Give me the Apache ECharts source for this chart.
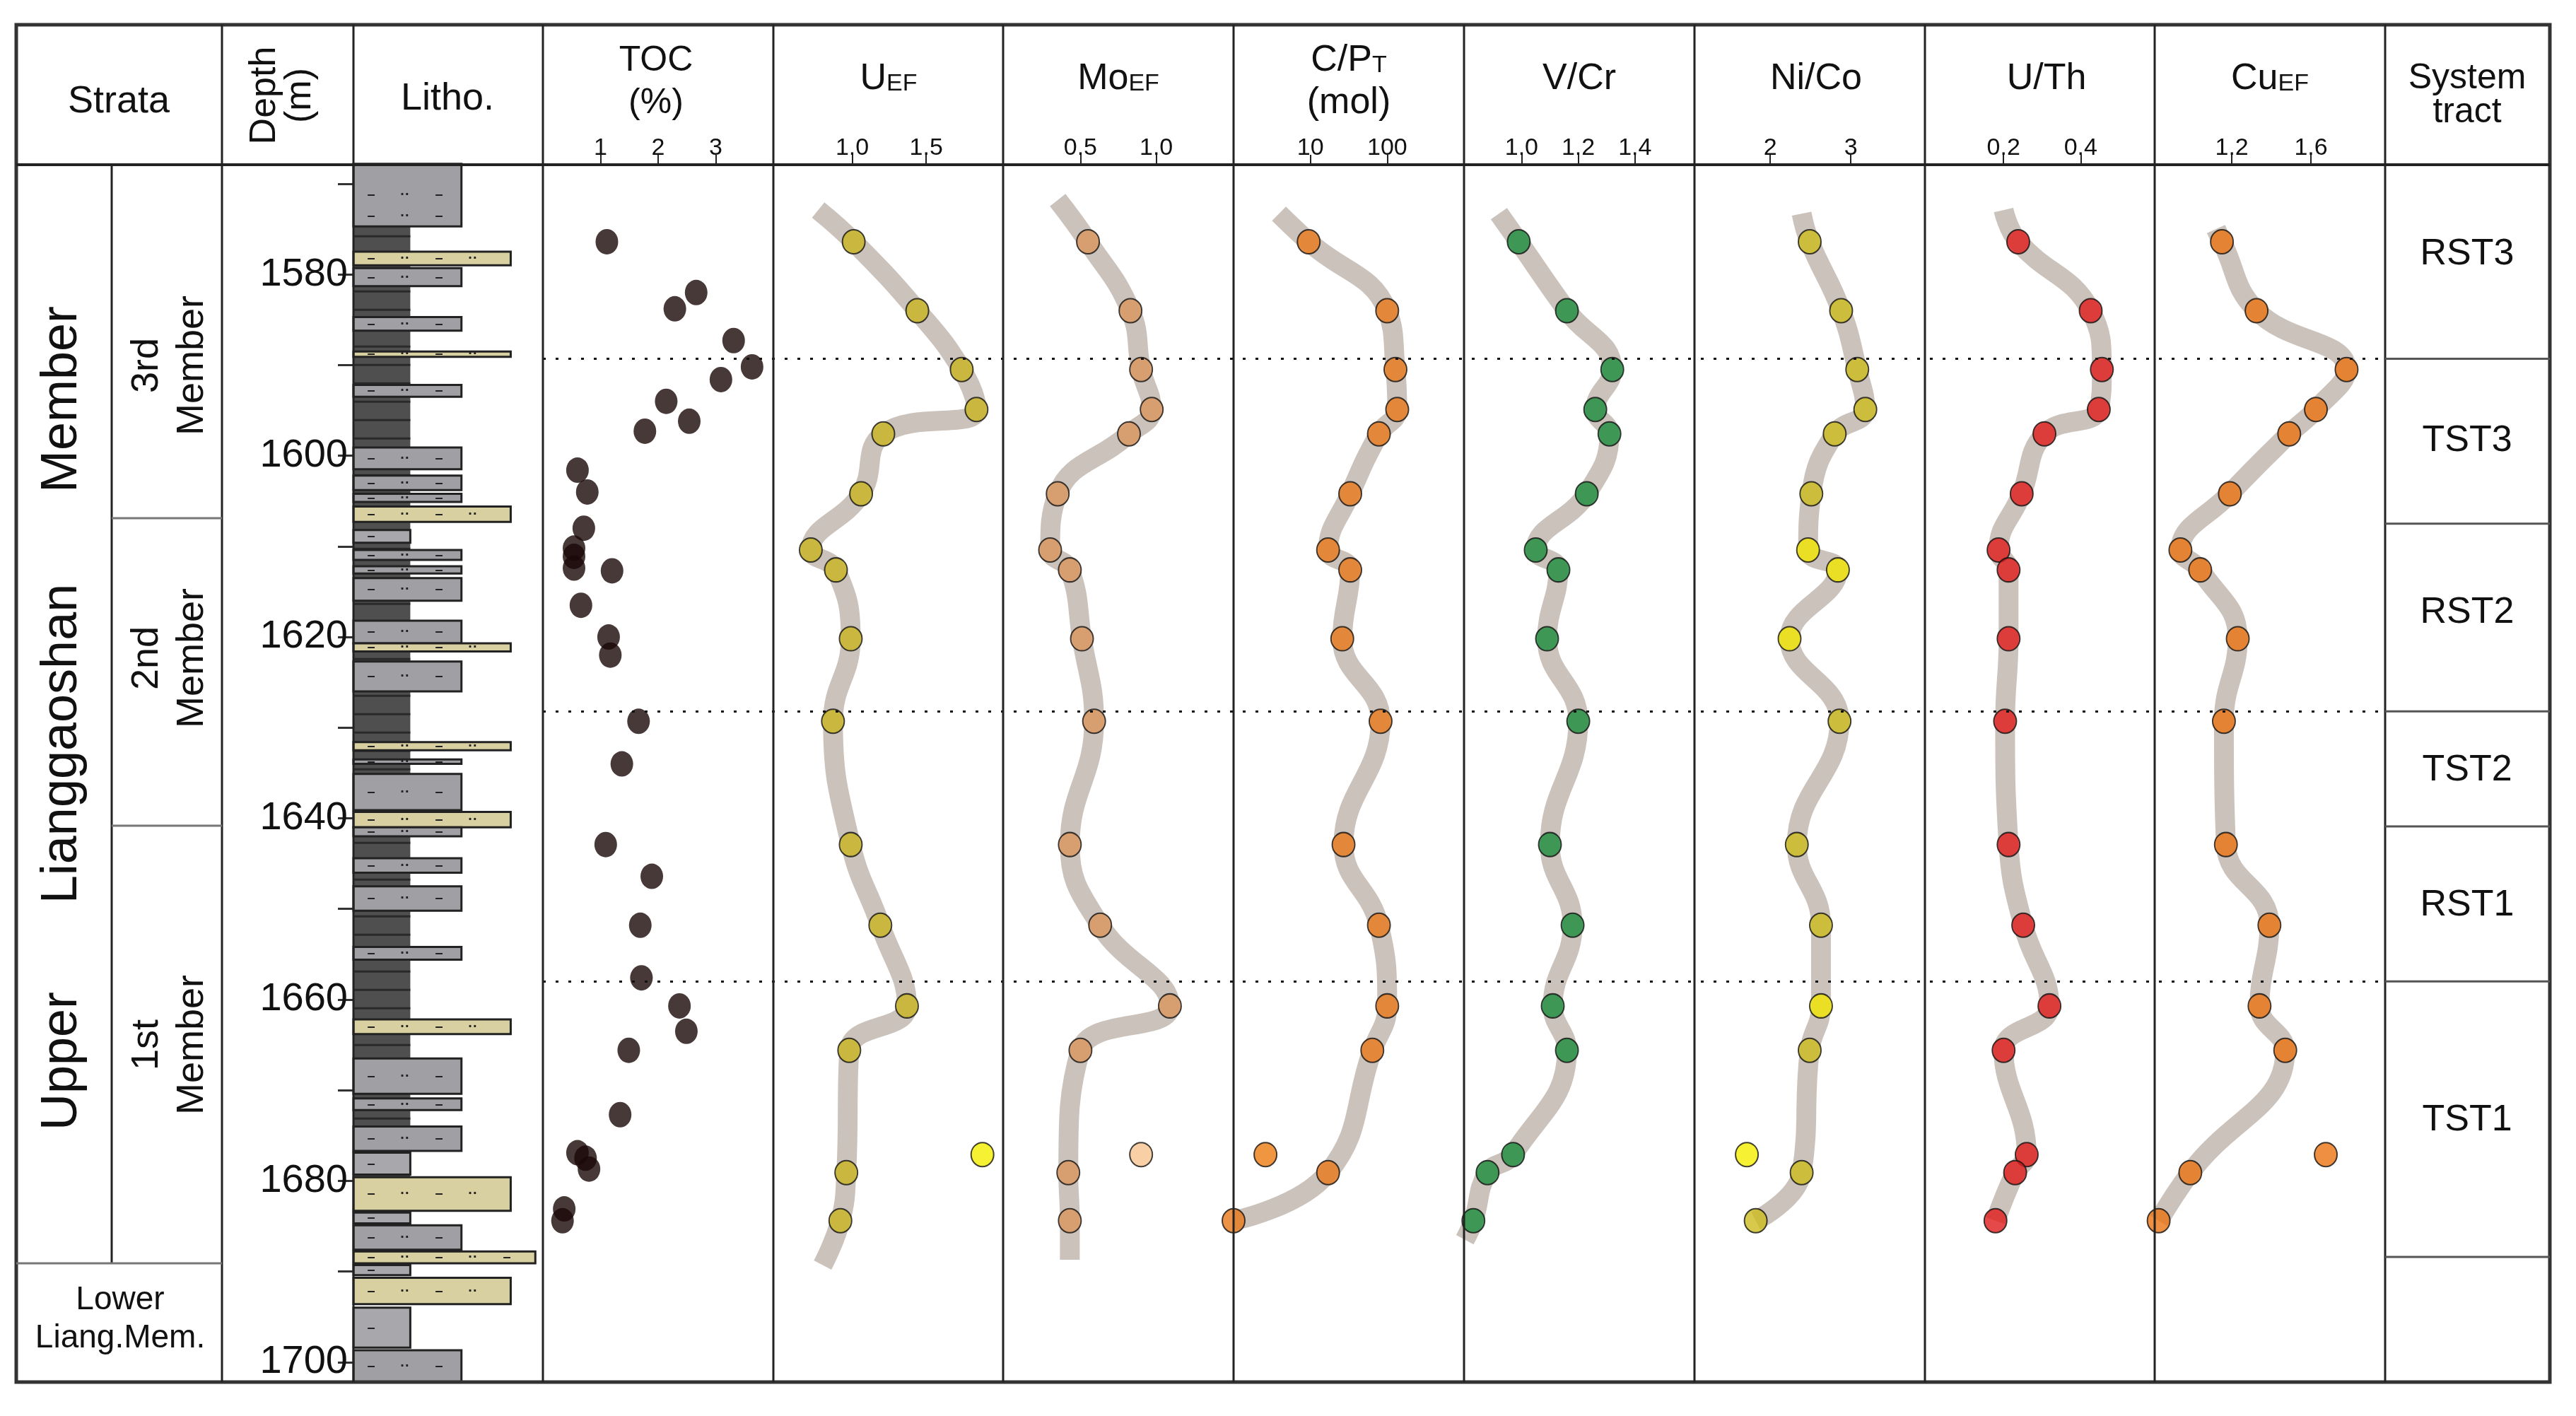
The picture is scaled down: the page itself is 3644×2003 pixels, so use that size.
<!DOCTYPE html>
<html><head><meta charset="utf-8">
<script src="https://cdn.jsdelivr.net/npm/echarts@6/dist/echarts.min.js"></script>
<style>html,body{margin:0;padding:0;background:#fff}#c{width:3644px;height:2003px}</style>
</head><body><div id="c"></div>
<script>
// ---------- DATA ----------
const depthTicks = [1570,1580,1590,1600,1610,1620,1630,1640,1650,1660,1670,1680,1690,1700];
const depthLabels = [1580,1600,1620,1640,1660,1680,1700];
const tocDepth = [1576.4,1582.0,1583.8,1587.3,1590.2,1591.6,1594.0,1596.2,1597.3,1601.6,1604.0,1608.0,1610.2,1611.1,1612.4,1612.7,1616.5,1620.0,1622.0,1629.3,1634.0,1642.9,1646.4,1651.8,1657.6,1660.7,1663.5,1665.6,1672.7,1676.9,1677.5,1678.7,1683.1,1684.4];
const tocValue = [1.11,2.66,2.29,3.31,3.63,3.09,2.14,2.54,1.77,0.60,0.77,0.71,0.54,0.54,0.54,1.20,0.66,1.14,1.17,1.66,1.37,1.09,1.89,1.69,1.71,2.37,2.49,1.49,1.34,0.60,0.74,0.80,0.37,0.34];
const sampleDepth = [1576.4,1584.0,1590.5,1594.9,1597.6,1604.2,1610.4,1612.6,1620.2,1629.3,1642.9,1651.8,1660.7,1665.6,1677.1,1679.1,1684.4];
const uEF  = [1.01,1.44,1.74,1.84,1.21,1.06,0.72,0.89,0.99,0.87,0.99,1.19,1.37,0.98,1.88,0.96,0.92];
const moEF = [0.55,0.83,0.90,0.97,0.82,0.35,0.30,0.43,0.51,0.59,0.43,0.63,1.09,0.50,0.90,0.42,0.43];
const cpT  = [9.5,100,128,135,78,33,17,33,26,82,27,78,100,64,2.6,17,1.0];
const vCr  = [0.99,1.16,1.32,1.26,1.31,1.23,1.05,1.13,1.09,1.20,1.10,1.18,1.11,1.16,0.97,0.88,0.83];
const niCo = [2.49,2.88,3.08,3.18,2.80,2.51,2.47,2.84,2.24,2.86,2.33,2.63,2.63,2.49,1.71,2.39,1.82];
const uTh  = [0.238,0.426,0.455,0.447,0.306,0.247,0.187,0.213,0.213,0.204,0.213,0.251,0.319,0.200,0.260,0.230,0.179];
const cuEF = [1.15,1.325,1.78,1.625,1.49,1.19,0.94,1.04,1.23,1.16,1.17,1.39,1.34,1.47,1.675,0.99,0.83];
// trend-band end points [top value, top depth, bottom value, bottom depth]
const trendEnds = {
  u:[0.77,1572.9,0.80,1689.3], mo:[0.35,1571.8,0.43,1688.7], cp:[3.9,1573.3,null,null],
  vcr:[0.92,1573.3,0.80,1686.5], nico:[2.39,1573.3,null,null], uth:[0.20,1572.9,null,null], cu:[1.12,1575.0,null,null]
};
const outlierIdx = 14; // sample off the trend band in several panels
const boundaryDepths = [1589.3,1628.2,1658.0];
const tracts = [['RST3',1577.8],['TST3',1598.4],['RST2',1617.3],['TST2',1634.7],['RST1',1649.6],['TST1',1673.3]];
const tractLines = [1589.3,1607.5,1628.2,1640.9,1658.0,1688.4];
// lithology intervals: [top, bottom, class]
const lithoBase = [1574.7,1690.2];
const litho = [
 [1567.8,1574.7,'silt'],[1577.5,1579.0,'sand'],[1579.3,1581.3,'silt'],[1584.7,1586.2,'silt'],[1588.5,1589.1,'sand'],
 [1592.2,1593.5,'silt'],[1599.1,1601.5,'silt'],[1602.2,1603.8,'silt'],[1604.2,1605.1,'silt'],[1605.6,1607.3,'sand'],
 [1608.2,1609.6,'mud'],[1610.4,1611.5,'silt'],[1612.2,1613.0,'silt'],[1613.5,1616.0,'silt'],[1618.2,1620.7,'silt'],
 [1620.7,1621.6,'sand'],[1622.7,1626.0,'silt'],[1631.6,1632.5,'sand'],[1633.5,1634.0,'silt'],[1635.1,1639.1,'silt'],
 [1639.3,1641.0,'sand'],[1641.0,1642.0,'silt'],[1644.4,1646.0,'silt'],[1647.5,1650.2,'silt'],[1654.2,1655.6,'silt'],
 [1662.2,1663.8,'sand'],[1666.5,1670.4,'silt'],[1670.9,1672.2,'silt'],[1674.0,1676.7,'silt'],[1676.9,1679.3,'mud'],
 [1679.6,1683.3,'sand'],[1683.5,1684.7,'mud'],[1684.9,1687.6,'silt'],[1687.8,1689.1,'sandW'],[1689.3,1690.4,'mud'],
 [1690.7,1693.6,'sand'],[1694.0,1698.4,'mud'],[1698.7,1702.2,'silt']
];

// ---------- LAYOUT ----------
const S = 3644/1566;
const X = v => Math.round(v*S);
const TOP = X(100), BOT = X(840), L = X(10), R = X(1550), HT = X(15);
const YMIN = 1567.9, YMAX = 1702.2;
const FN = "'Liberation Sans Narrow','Liberation Sans',Arial,sans-serif";
const FW = "'Liberation Sans',Arial,sans-serif";
const yDepth = d => TOP + (d-YMIN)/(YMAX-YMIN)*(BOT-TOP);

const cols = [10,68,135,215,330,470,610,750,890,1030,1170,1310,1450,1550].map(X);

const chart = echarts.init(document.getElementById('c'));
const grids=[], xAxes=[], yAxes=[], series=[];

function addGrid(x0,x1,xa,showDepth){
  const i = grids.length;
  grids.push({left:x0, width:x1-x0, top:TOP, height:BOT-TOP});
  xAxes.push(Object.assign({gridIndex:i, position:'top', splitLine:{show:false},
    axisLine:{show:false},
    axisLabel:{fontFamily:FN, fontSize:34, color:'#111', margin:8},
  }, xa));
  yAxes.push({gridIndex:i, type:'value', inverse:true, min:YMIN, max:YMAX, splitLine:{show:false},
    show: !!showDepth,
    axisLine:{show:false},
    axisTick:{show:true, length:22, inside:false, customValues:depthTicks, lineStyle:{color:'#333',width:3}},
    axisLabel:{show:true, customValues:depthLabels, formatter:v=>String(Math.round(v)), fontFamily:FN, fontSize:56, color:'#111', margin:8}
  });
  return i;
}
const tickCfg = vals => ({axisTick:{show:true, customValues:vals, length:14, inside:false, lineStyle:{color:'#222',width:2}},
  axisLabel:{customValues:vals, fontFamily:FN, fontSize:34, color:'#111', margin:6}});

// Litho grid
const gL = addGrid(cols[3], cols[4], {type:'value', min:0, max:1, show:false}, true);
const widths = {mud:0.30, silt:0.57, sand:0.83, sandW:0.96, shale:0.30};
const fills = {mud:'#a8a8ac', silt:'#a0a0a4', sand:'#d8d0a0', sandW:'#d8d0a0', shale:'#4f4f4f'};
series.push({type:'custom', xAxisIndex:gL, yAxisIndex:gL,
  data:[[lithoBase[0],lithoBase[1],'shale']].concat(litho),
  renderItem:(p,api)=>{
    const item = p.dataIndex===0 ? [lithoBase[0],lithoBase[1],'shale'] : litho[p.dataIndex-1];
    const a = api.coord([0,item[0]]), b = api.coord([widths[item[2]], item[1]]);
    const children=[{type:'rect', shape:{x:a[0],y:a[1],width:b[0]-a[0],height:b[1]-a[1]},
      style:{fill:fills[item[2]], stroke: item[2]==='shale'?null:'#222', lineWidth:3}}];
    if(item[2]==='shale'){
      for(let y=a[1]+14;y<b[1];y+=26) children.push({type:'line',shape:{x1:a[0],y1:y,x2:b[0],y2:y},style:{stroke:'#2a2a2a',lineWidth:3}});
    } else {
      const h=b[1]-a[1];
      for(let y=a[1]+h/2;y<b[1];y+=30){ for(let x=a[0]+25;x<b[0]-10;x+=48)
        children.push({type:'text',style:{x,y,text:(Math.round(x/48)%2?'–':'··'),fill:'#222',font:'bold 20px sans-serif',align:'center',verticalAlign:'middle'}});
      }
    }
    return {type:'group',children};
  }, encode:{x:[],y:[0,1]}});

// TOC
const gT = addGrid(cols[4], cols[5], Object.assign({type:'value', min:0, max:4}, tickCfg([1,2,3])));
series.push({type:'scatter', xAxisIndex:gT, yAxisIndex:gT, symbolSize:[32,36],
  data: tocValue.map((v,i)=>[v,tocDepth[i]]), itemStyle:{color:'#1a0808'}});

const panels = [
  {key:'u', vals:uEF, x:{type:'value',min:0.467,max:2.02}, ticks:[1.0,1.5], fmt:v=>v.toFixed(1), color:'#c8b420', out:'#f5ee00', offTrend:true},
  {key:'mo', vals:moEF, x:{type:'value',min:-0.01,max:1.51}, ticks:[0.5,1.0], fmt:v=>v.toFixed(1), color:'#d9955e', out:'#f8c490', offTrend:true},
  {key:'cp', vals:cpT, x:{type:'log',min:1,max:1000,logBase:10}, ticks:[10,100], fmt:v=>String(Math.round(v)), color:'#e8781a', out:'#ec7c10', offTrend:true},
  {key:'vcr', vals:vCr, x:{type:'value',min:0.797,max:1.61}, ticks:[1.0,1.2,1.4], fmt:v=>v.toFixed(1), color:'#1c8c3c', out:'#1c8c3c', offTrend:false},
  {key:'nico', vals:niCo, x:{type:'value',min:1.06,max:3.92}, ticks:[2,3], fmt:v=>String(v), color:'#cdbb1e', out:'#f5ee00', offTrend:true, bright:[6,7,8,12]},
  {key:'uth', vals:uTh, x:{type:'value',min:-0.004,max:0.592}, ticks:[0.2,0.4], fmt:v=>v.toFixed(1), color:'#e01c1c', out:'#e01c1c', offTrend:false},
  {key:'cu', vals:cuEF, x:{type:'value',min:0.81,max:1.975}, ticks:[1.2,1.6], fmt:v=>v.toFixed(1), color:'#ea7312', out:'#ea7312', offTrend:true},
];
panels.forEach((p,k)=>{
  const xa = Object.assign({}, p.x, tickCfg(p.ticks));
  xa.axisLabel.formatter = p.fmt;
  const g = addGrid(cols[5+k], cols[6+k], xa);
  const e = trendEnds[p.key];
  const line = [];
  if(e[0]!=null) line.push([e[0],e[1]]);
  p.vals.forEach((v,i)=>{ if(!(p.offTrend && i===outlierIdx)) line.push([v,sampleDepth[i]]); });
  if(e[2]!=null) line.push([e[2],e[3]]);
  series.push({type:'line', xAxisIndex:g, yAxisIndex:g, data:line, smooth:0.45, showSymbol:false, silent:true,
    lineStyle:{width:28, color:'rgba(196,187,180,0.9)', cap:'butt'}, z:1});
  series.push({type:'scatter', xAxisIndex:g, yAxisIndex:g, symbolSize:[32,34], z:3,
    data:p.vals.map((v,i)=>({value:[v,sampleDepth[i]], itemStyle:{color:(i===outlierIdx && p.offTrend)?p.out:((p.bright||[]).includes(i)?'#f2e600':p.color)}})),
    itemStyle:{borderColor:'#111', borderWidth:2}});
});
// boundary dotted lines
const gB = addGrid(cols[4], cols[12], {type:'value', min:0, max:1, show:false});
series.push({type:'line', xAxisIndex:gB, yAxisIndex:gB, data:[], markLine:{symbol:'none', silent:true, label:{show:false},
  lineStyle:{type:[4,14], color:'#111', width:3}, data: boundaryDepths.map(d=>({yAxis:d}))}});

// ---------- GRAPHICS ----------
const G = [];
const ln=(x1,y1,x2,y2,w,c)=>G.push({type:'line',shape:{x1,y1,x2,y2},style:{stroke:c||'#222',lineWidth:w||3},z:10});
const tx=(x,y,text,size,opt)=>G.push(Object.assign({type:'text',x,y,z:11,style:Object.assign({text,font:`${size}px ${FW}`,fill:'#111',align:'center',verticalAlign:'middle'},opt&&opt.style||{})},opt&&opt.el||{}));
G.push({type:'rect',shape:{x:L,y:HT,width:R-L,height:BOT-HT},style:{fill:null,stroke:'#333',lineWidth:5},z:10});
ln(L,TOP,R,TOP,4);
cols.slice(2,13).forEach(c=>ln(c,HT,c,BOT,3));
ln(cols[1],TOP,cols[1],X(768),3);
ln(cols[1],X(315),cols[2],X(315),3,'#777');
ln(cols[1],X(502),cols[2],X(502),3,'#777');
ln(L,X(768),cols[2],X(768),3,'#777');
tractLines.forEach(d=>ln(cols[12],yDepth(d),cols[13],yDepth(d),3,'#555'));
// header
tx(X(72),X(62),'Strata',54);
tx(X(172),X(58),'Depth\n(m)',52,{el:{rotation:Math.PI/2},style:{lineHeight:50}});
tx(X(272),X(60),'Litho.',54);
tx(X(399),X(50),'TOC\n(%)',50,{style:{lineHeight:60}});
const rich={a:{fontSize:52,fontFamily:FW,fill:'#111'},b:{fontSize:34,fontFamily:FW,fill:'#111',padding:[14,0,0,0]}};
[['U',540],['Mo',680],[null,820],['V/Cr',960],['Ni/Co',1104],['U/Th',1244],['Cu',1380]].forEach((t,i)=>{
  if(t[0]===null){ tx(X(820),X(50),'{a|C/P}{b|T}\n{a|(mol)}',52,{style:{rich,lineHeight:60}}); return; }
  const sub = ['U','Mo','Cu'].includes(t[0]) ? '{b|EF}' : '';
  tx(X(t[1]),X(48),'{a|'+t[0]+'}'+sub,52,{style:{rich}});
});
tx(X(1500),X(58),'System\ntract',50,{style:{lineHeight:48}});
// strata labels
tx(X(38),X(243),'Member',72,{el:{rotation:Math.PI/2}});
tx(X(38),X(452),'Lianggaoshan',72,{el:{rotation:Math.PI/2}});
tx(X(38),X(645),'Upper',72,{el:{rotation:Math.PI/2}});
tx(X(103),X(222),'3rd\nMember',54,{el:{rotation:Math.PI/2},style:{lineHeight:64}});
tx(X(103),X(400),'2nd\nMember',54,{el:{rotation:Math.PI/2},style:{lineHeight:64}});
tx(X(103),X(635),'1st\nMember',54,{el:{rotation:Math.PI/2},style:{lineHeight:64}});
G.push({type:'text',x:X(73),y:X(802),z:11,style:{text:'Lower\nLiang.Mem.',font:`46px ${FN}`,fill:'#111',align:'center',verticalAlign:'middle',lineHeight:54}});
tracts.forEach(t=>tx(X(1500),yDepth(t[1]),t[0],52));

chart.setOption({animation:false, backgroundColor:'#fff', grid:grids, xAxis:xAxes, yAxis:yAxes, series, graphic:G});
</script></body></html>
